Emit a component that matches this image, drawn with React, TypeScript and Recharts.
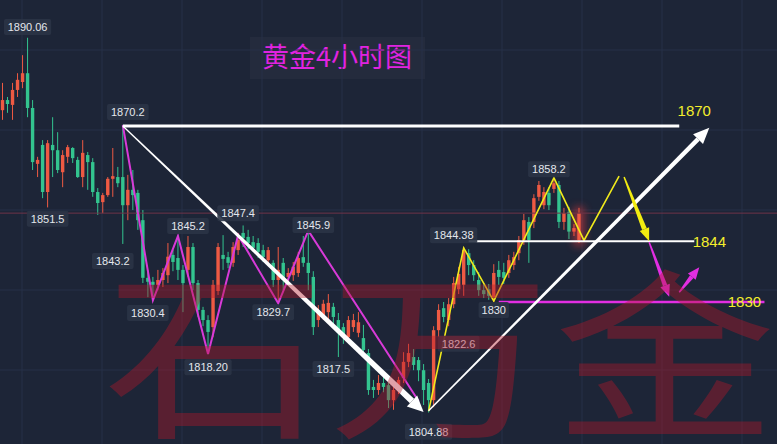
import React from 'react';
import { ComposedChart, Bar, Line, XAxis, YAxis, CartesianGrid, ReferenceLine, ReferenceDot } from 'recharts';

// 4h candles, index 0..115 (red = up, green = down)
const opens = [
  1873.6, 1875.9, 1874.8, 1878.2, 1880.0, 1882.0, 1874.1, 1861.4, 1865.7, 1855.0,
  1865.7, 1864.5, 1859.5, 1863.0, 1865.0, 1862.3, 1858.4, 1863.4, 1861.8, 1855.0,
  1852.7, 1854.3, 1858.0, 1858.4, 1858.4, 1852.0, 1855.5, 1854.8, 1848.6, 1835.5,
  1834.6, 1833.9, 1835.0, 1836.1, 1840.7, 1840.0, 1837.3, 1837.3, 1842.5, 1834.3,
  1828.2, 1825.9, 1824.3, 1832.5, 1840.7, 1840.2, 1838.9, 1841.8, 1845.7, 1844.8,
  1843.6, 1843.4, 1841.8, 1839.5, 1838.9, 1835.0, 1838.9, 1835.7, 1836.1, 1836.6,
  1840.2, 1838.9, 1835.7, 1825.9, 1827.0, 1827.7, 1828.9, 1825.9, 1824.3, 1822.0,
  1824.3, 1823.0, 1821.8, 1818.4, 1810.7, 1810.0, 1811.6, 1811.1, 1807.7, 1810.0,
  1812.7, 1816.4, 1817.5, 1816.8, 1814.5, 1811.6, 1807.7, 1823.6, 1828.6, 1825.9,
  1829.5, 1832.9, 1833.9, 1841.1, 1838.4, 1835.0, 1832.7, 1832.9, 1831.1, 1837.3,
  1836.8, 1836.6, 1838.4, 1841.1, 1844.1, 1848.2, 1848.2, 1853.9, 1852.0, 1854.8,
  1855.7, 1856.6, 1848.2, 1850.5, 1846.0, 1844.1,
];
const highs = [
  1879.8, 1876.6, 1879.8, 1882.0, 1886.1, 1890.06, 1875.9, 1863.0, 1866.8, 1866.8,
  1872.0, 1868.6, 1864.5, 1865.7, 1865.2, 1863.0, 1866.8, 1864.1, 1862.7, 1855.9,
  1854.8, 1858.4, 1865.0, 1860.7, 1870.2, 1858.9, 1860.0, 1855.5, 1850.9, 1837.3,
  1835.7, 1837.3, 1837.7, 1843.4, 1841.8, 1845.2, 1838.4, 1845.0, 1843.4, 1835.0,
  1828.9, 1827.0, 1835.0, 1843.4, 1845.2, 1841.4, 1843.6, 1845.7, 1847.4, 1846.4,
  1845.0, 1844.5, 1843.0, 1842.5, 1839.5, 1842.5, 1840.0, 1837.7, 1839.1, 1841.4,
  1845.0, 1845.9, 1837.0, 1829.3, 1830.5, 1831.8, 1829.8, 1827.5, 1825.2, 1826.8,
  1827.3, 1827.7, 1824.8, 1819.3, 1812.3, 1813.4, 1813.0, 1812.3, 1811.1, 1813.0,
  1818.6, 1820.5, 1819.3, 1817.5, 1815.9, 1812.5, 1824.5, 1829.5, 1830.0, 1830.9,
  1835.7, 1838.0, 1842.5, 1842.0, 1839.5, 1836.8, 1834.0, 1834.1, 1838.6, 1839.3,
  1838.9, 1840.7, 1841.4, 1845.0, 1850.0, 1849.3, 1854.5, 1857.5, 1856.1, 1856.1,
  1858.2, 1857.5, 1851.4, 1851.6, 1847.7, 1851.4,
];
const lows = [
  1871.4, 1873.0, 1871.4, 1876.6, 1878.6, 1872.0, 1860.0, 1858.4, 1853.6, 1851.5,
  1858.4, 1859.3, 1856.1, 1861.6, 1861.6, 1858.2, 1856.1, 1855.5, 1853.9, 1849.8,
  1850.2, 1853.9, 1853.9, 1856.1, 1843.2, 1848.6, 1850.9, 1846.4, 1834.3, 1831.1,
  1830.4, 1832.7, 1833.4, 1834.3, 1837.0, 1835.0, 1827.7, 1835.7, 1832.7, 1826.6,
  1824.5, 1818.2, 1822.0, 1831.6, 1837.3, 1837.7, 1838.0, 1840.7, 1842.5, 1842.0,
  1841.4, 1840.0, 1839.1, 1838.4, 1833.4, 1829.7, 1832.7, 1834.6, 1834.8, 1835.7,
  1838.0, 1832.7, 1822.5, 1824.3, 1825.9, 1825.4, 1825.0, 1817.5, 1820.5, 1820.9,
  1823.2, 1822.0, 1818.6, 1808.9, 1808.2, 1808.9, 1809.5, 1805.9, 1805.5, 1809.1,
  1811.6, 1815.2, 1814.5, 1812.0, 1806.6, 1804.88, 1806.1, 1822.0, 1825.4, 1824.5,
  1828.6, 1831.8, 1831.4, 1836.1, 1834.8, 1831.4, 1830.9, 1830.5, 1830.0, 1833.9,
  1834.1, 1835.5, 1837.3, 1839.5, 1843.0, 1838.9, 1846.8, 1853.0, 1851.1, 1850.9,
  1854.8, 1846.8, 1846.4, 1844.3, 1845.0, 1843.4,
];
const closes = [
  1875.9, 1875.0, 1878.2, 1880.5, 1882.0, 1874.1, 1861.8, 1862.3, 1855.0, 1866.1,
  1864.5, 1860.0, 1863.4, 1865.2, 1862.7, 1858.4, 1863.9, 1861.8, 1855.0, 1852.5,
  1854.3, 1858.0, 1858.6, 1857.0, 1852.0, 1855.5, 1854.3, 1848.6, 1835.5, 1834.6,
  1833.9, 1835.0, 1836.6, 1840.3, 1839.1, 1837.3, 1834.3, 1842.5, 1834.3, 1828.2,
  1825.9, 1823.2, 1833.9, 1842.5, 1839.8, 1838.9, 1842.5, 1844.1, 1844.5, 1843.4,
  1842.3, 1841.4, 1840.2, 1841.8, 1835.0, 1837.3, 1835.0, 1836.6, 1838.0, 1840.0,
  1838.9, 1836.6, 1824.3, 1827.5, 1829.6, 1829.8, 1826.6, 1823.0, 1822.0, 1825.9,
  1825.9, 1825.4, 1819.1, 1810.0, 1810.0, 1811.6, 1810.7, 1807.7, 1810.0, 1812.3,
  1816.4, 1818.4, 1815.7, 1814.5, 1810.0, 1807.7, 1823.6, 1828.2, 1826.6, 1829.5,
  1834.3, 1836.4, 1841.8, 1838.4, 1836.1, 1832.7, 1831.8, 1831.4, 1836.6, 1835.7,
  1835.5, 1839.5, 1840.2, 1844.1, 1848.6, 1844.1, 1853.6, 1856.6, 1855.0, 1852.0,
  1857.0, 1848.2, 1850.2, 1846.0, 1846.8, 1850.2,
];

const SLOTS = 155; // empty slots on the right hold the projection
const LAST_PRICE = 1850.2;

// wave lines: [candle index, price]
const magentaWave: [number, number][] = [
  [24, 1870.2], [30, 1830.4], [35, 1845.0], [41, 1818.2], [47, 1845.2], [55, 1829.7], [61, 1846.2], [83, 1807.5],
];
const yellowWave: [number, number][] = [
  [85, 1805.2], [92, 1842.3], [98, 1830.2], [110, 1858.2], [116, 1844.0], [123, 1858.6],
];

// levels: [from index, to index, price, width]
const whiteLevels: [number, number, number, number][] = [
  [24, 135, 1870.0, 3],
  [93, 138, 1843.8, 2],
];
const magentaLevel: [number, number, number] = [99, 152, 1830.0];
const levelTexts: [number, number, string][] = [
  [138, 1873.4, '1870'],
  [141, 1843.6, '1844'],
  [148, 1830.0, '1830'],
];

// arrows: [from index, from price, to index, to price]
const whiteArrows: [number, number, number, number][] = [
  [24, 1870.0, 84, 1805.0],
  [85, 1805.3, 141, 1869.6],
];
const yellowArrow: [number, number, number, number] = [124, 1858.4, 129, 1843.8];
const magentaArrows: [number, number, number, number][] = [
  [129, 1843.6, 133, 1831.2],
  [135, 1832.2, 139, 1837.9],
];

// price tags: [index, price, text]
const priceTags: [number, number, string][] = [
  [5, 1892.5, '1890.06'],
  [25, 1873.2, '1870.2'],
  [9, 1848.9, '1851.5'],
  [22, 1839.3, '1843.2'],
  [37, 1847.3, '1845.2'],
  [47, 1850.2, '1847.4'],
  [62, 1847.5, '1845.9'],
  [29, 1827.5, '1830.4'],
  [54, 1827.7, '1829.7'],
  [41, 1815.2, '1818.20'],
  [66, 1814.8, '1817.5'],
  [90, 1845.2, '1844.38'],
  [98, 1828.2, '1830'],
  [91, 1820.5, '1822.6'],
  [109, 1860.2, '1858.2'],
  [85, 1800.5, '1804.88'],
];

const RED = '#ee5a43';
const GREEN = '#33c48f';
const BG = '#1d2537';
const GLOW_INDEX = 115;

const rows = Array.from({ length: SLOTS }, (_, i) => {
  const has = i < opens.length;
  return {
    i,
    range: has ? [lows[i], highs[i]] : null,
    open: has ? opens[i] : null,
    close: has ? closes[i] : null,
    high: has ? highs[i] : null,
    low: has ? lows[i] : null,
    mag: null as number | null,
    yel: null as number | null,
  };
});
magentaWave.forEach(([i, p]) => (rows[i].mag = p));
yellowWave.forEach(([i, p]) => (rows[i].yel = p));

const Candle = (props: any) => {
  const { x, y, width, height, payload } = props;
  if (!payload || payload.open == null) return <g />;
  const { open, close, high, low } = payload;
  const color = close >= open ? RED : GREEN;
  const top = height >= 0 ? y : y + height;
  const h = Math.abs(height);
  const span = high - low || 1;
  const yOf = (v: number) => top + ((high - v) / span) * h;
  const cx = x + width / 2;
  const bTop = yOf(Math.max(open, close));
  const bBot = yOf(Math.min(open, close));
  const bw = 3.4;
  return (
    <g>
      {payload.i === GLOW_INDEX && (
        <g>
          <defs>
            <filter id="glow" x="-200%" y="-100%" width="500%" height="300%">
              <feGaussianBlur stdDeviation="4" />
            </filter>
          </defs>
          <rect x={cx - 5} y={bTop - 6} width={10} height={bBot - bTop + 12} fill="#ff3b3b" opacity={0.55} filter="url(#glow)" />
        </g>
      )}
      <line x1={cx} x2={cx} y1={top} y2={top + h} stroke={color} strokeWidth={1} />
      <rect x={cx - bw / 2} y={bTop} width={bw} height={Math.max(1, bBot - bTop)} fill={color} />
    </g>
  );
};

const arrowShape = (color: string, w0: number, w1: number, headLen: number, headW: number) => (p: any) => {
  const { x1, y1, x2, y2 } = p;
  const dx = x2 - x1;
  const dy = y2 - y1;
  const len = Math.hypot(dx, dy) || 1;
  const ux = dx / len;
  const uy = dy / len;
  const nx = -uy;
  const ny = ux;
  const bx = x2 - ux * headLen;
  const by = y2 - uy * headLen;
  const shaft = [
    [x1 + nx * w0 / 2, y1 + ny * w0 / 2],
    [bx + nx * w1 / 2, by + ny * w1 / 2],
    [bx - nx * w1 / 2, by - ny * w1 / 2],
    [x1 - nx * w0 / 2, y1 - ny * w0 / 2],
  ];
  const head = [
    [x2, y2],
    [bx + nx * headW / 2, by + ny * headW / 2],
    [bx - nx * headW / 2, by - ny * headW / 2],
  ];
  const pts = (a: number[][]) => a.map((q) => q.join(',')).join(' ');
  return (
    <g>
      <polygon points={pts(shaft)} fill={color} />
      <polygon points={pts(head)} fill={color} />
    </g>
  );
};

const tagShape = (text: string) => (p: any) => {
  const { cx, cy } = p;
  const w = text.length * 5.6 + 8;
  return (
    <g>
      <rect x={cx - w / 2} y={cy - 8} width={w} height={16} rx={2} fill="#2b3446" opacity={0.9} />
      <text x={cx} y={cy + 4} textAnchor="middle" fill="#e4e7ed" fontSize={11} fontFamily="'Liberation Sans', Arial, sans-serif">
        {text}
      </text>
    </g>
  );
};

const levelTextShape = (text: string) => (p: any) => (
  <text x={p.cx} y={p.cy + 5} textAnchor="middle" fill="#f4ee2c" fontSize={15} fontFamily="'Liberation Sans', Arial, sans-serif">
    {text}
  </text>
);

const gridX = [22, 102, 182, 262, 342, 422, 502, 582, 662, 742];
const gridY = [50, 130, 210, 290, 370];

export default function App() {
  return (
    <div style={{ position: 'relative', width: 777, height: 444, background: BG, overflow: 'hidden' }}>
      <style>{'body{margin:0}'}</style>
      <svg width={777} height={444} style={{ position: 'absolute', left: 0, top: 0 }}>
        <rect x={250} y={37} width={175} height={42} fill="#ffffff" opacity={0.03} />
        <text x={337} y={67} textAnchor="middle" fill="#e023e0" fontSize={27} fontFamily="'Noto Sans CJK SC', sans-serif">
          黄金4小时图
        </text>
      </svg>
      <ComposedChart width={777} height={444} data={rows} margin={{ top: 0, right: 0, bottom: 0, left: 0 }} barCategoryGap="10%">
        <CartesianGrid stroke="#273048" strokeWidth={1} horizontalPoints={gridY} verticalPoints={gridX} />
        <XAxis dataKey="i" hide />
        <YAxis hide type="number" domain={[1797.73, 1898.64]} allowDataOverflow />
        <ReferenceLine y={LAST_PRICE} stroke="#6e3448" strokeWidth={1} ifOverflow="visible" />
        <Bar dataKey="range" shape={Candle} isAnimationActive={false} />
        <Line dataKey="mag" stroke="#d83ad8" strokeWidth={2} dot={false} connectNulls isAnimationActive={false} />
        <Line dataKey="yel" stroke="#f0ea1c" strokeWidth={1.6} dot={false} connectNulls isAnimationActive={false} />
        {whiteLevels.map(([a, b, p, w], k) => (
          <ReferenceLine key={`wl${k}`} segment={[{ x: a, y: p }, { x: b, y: p }]} stroke="#ffffff" strokeWidth={w} ifOverflow="visible" />
        ))}
        <ReferenceLine
          segment={[{ x: magentaLevel[0], y: magentaLevel[2] }, { x: magentaLevel[1], y: magentaLevel[2] }]}
          stroke="#e22ee2"
          strokeWidth={2.5}
          ifOverflow="visible"
        />
        <ReferenceLine
          segment={[{ x: whiteArrows[0][0], y: whiteArrows[0][1] }, { x: whiteArrows[0][2], y: whiteArrows[0][3] }]}
          shape={arrowShape('#ffffff', 1.2, 6, 16, 15)}
          ifOverflow="visible"
        />
        <ReferenceLine
          segment={[{ x: whiteArrows[1][0], y: whiteArrows[1][1] }, { x: whiteArrows[1][2], y: whiteArrows[1][3] }]}
          shape={arrowShape('#ffffff', 1.5, 4.5, 16, 14)}
          ifOverflow="visible"
        />
        <ReferenceLine
          segment={[{ x: yellowArrow[0], y: yellowArrow[1] }, { x: yellowArrow[2], y: yellowArrow[3] }]}
          shape={arrowShape('#f2ec10', 1.5, 5, 13, 10)}
          ifOverflow="visible"
        />
        {magentaArrows.map(([a, p, b, q], k) => (
          <ReferenceLine
            key={`ma${k}`}
            segment={[{ x: a, y: p }, { x: b, y: q }]}
            shape={arrowShape('#e22ee2', 1.5, 4.5, 12, 10)}
            ifOverflow="visible"
          />
        ))}
        {levelTexts.map(([i, p, t]) => (
          <ReferenceDot key={`lt${t}`} x={i} y={p} r={0} shape={levelTextShape(t)} ifOverflow="visible" />
        ))}
        {priceTags.map(([i, p, t]) => (
          <ReferenceDot key={`pt${t}${i}`} x={i} y={p} r={0} shape={tagShape(t)} ifOverflow="visible" />
        ))}
      </ComposedChart>
      <svg width={777} height={444} style={{ position: 'absolute', left: 0, top: 0, pointerEvents: 'none' }}>
        <g fill="#b4182a" opacity={0.4} fontSize={182} fontFamily="'Noto Sans CJK SC', sans-serif" textAnchor="middle">
          <text transform="translate(215,424) scale(1.22,1)">石</text>
          <text transform="translate(440,424) scale(1.22,1)">万</text>
          <text transform="translate(665,424) scale(1.22,1)">金</text>
        </g>
      </svg>
    </div>
  );
}
